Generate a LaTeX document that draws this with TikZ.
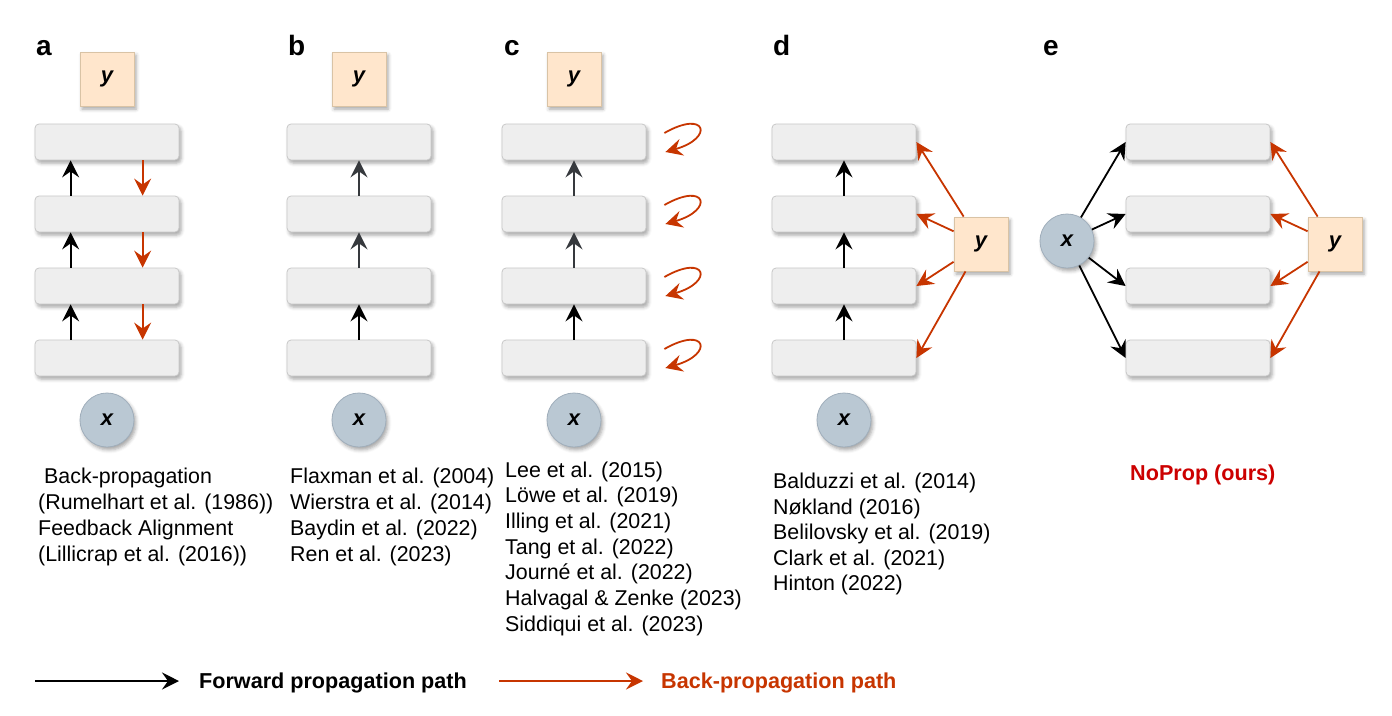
\documentclass[tikz,border=0pt]{standalone}
\usepackage{fontspec}
\setmainfont{Liberation Sans}
\usetikzlibrary{arrows.meta,shadows.blur,calc}
\definecolor{layerfill}{HTML}{EEEEEE}
\definecolor{layerdraw}{HTML}{C8C8C8}
\definecolor{yfill}{HTML}{FFE6CC}
\definecolor{ydraw}{HTML}{D9C3A5}
\definecolor{xfill}{HTML}{BAC8D3}
\definecolor{xdraw}{HTML}{A0AEBB}
\definecolor{bpred}{HTML}{C73500}
\definecolor{fwgray}{HTML}{36393D}
\definecolor{oursred}{HTML}{CC0000}
\begin{document}
\begin{tikzpicture}[x=1pt,y=-1pt,
  shad/.style={blur shadow={shadow xshift=2pt,shadow yshift=-3pt,shadow blur radius=3.5pt,shadow opacity=35}},
  layer/.style={rounded corners=4pt,fill=layerfill,draw=layerdraw,line width=0.8pt,
    minimum width=144pt,minimum height=36pt,inner sep=0pt,shad},
  ybox/.style={fill=yfill,draw=ydraw,line width=0.8pt,minimum size=54pt,inner sep=0pt,
    font=\fontsize{22}{26}\selectfont\bfseries\itshape,shad},
  xcirc/.style={circle,fill=xfill,draw=xdraw,line width=0.8pt,minimum size=54pt,inner sep=0pt,
    font=\fontsize{22}{26}\selectfont\bfseries\itshape,shad},
  tip/.style={-{Stealth[length=17pt,width=17pt,inset=6pt]}},
  fw/.style={line width=1.8pt,black,tip},
  fwg/.style={line width=1.8pt,fwgray,tip},
  bp/.style={line width=1.8pt,bpred,tip},
  cite/.style={font=\fontsize{21.4}{25}\selectfont,inner sep=0pt,anchor=base west},
  plabel/.style={font=\fontsize{28}{32}\selectfont\bfseries,inner sep=0pt,anchor=base west},
  legtext/.style={font=\fontsize{21.6}{25}\selectfont\bfseries,inner sep=0pt,anchor=base west}
]
\useasboundingbox (0,0) rectangle (1392,715);

% panel labels
\node[plabel] (la) at (36,55) {a};
\node[plabel] (lb) at (288,55) {b};
\node[plabel] (lc) at (504,55) {c};
\node[plabel] (ld) at (773,55) {d};
\node[plabel] (le) at (1043,55) {e};

% ---------- panel a ----------
\node[ybox] (ya) at (107,79) {y};
\foreach \i/\yy in {1/142,2/214,3/286,4/358} \node[layer] (a\i) at (107,\yy) {};
\node[xcirc] (xa) at (107,420) {x};
\foreach \lo/\hi in {2/1,3/2,4/3}{
  \draw[fw] ($(a\lo.north west)+(36,0)$) -- ($(a\hi.south west)+(36,0)$);
  \draw[bp] ($(a\hi.south west)+(108,0)$) -- ($(a\lo.north west)+(108,0)$);
}

% ---------- panel b ----------
\node[ybox] (yb) at (359,79) {y};
\foreach \i/\yy in {1/142,2/214,3/286,4/358} \node[layer] (b\i) at (359,\yy) {};
\node[xcirc] (xb) at (359,420) {x};
\draw[fwg] (b2.north) -- (b1.south);
\draw[fwg] (b3.north) -- (b2.south);
\draw[fw] (b4.north) -- (b3.south);

% ---------- panel c ----------
\node[ybox] (yc) at (574,79) {y};
\foreach \i/\yy in {1/142,2/214,3/286,4/358} \node[layer] (c\i) at (574,\yy) {};
\node[xcirc] (xc) at (574,420) {x};
\draw[fwg] (c2.north) -- (c1.south);
\draw[fwg] (c3.north) -- (c2.south);
\draw[fw] (c4.north) -- (c3.south);
\foreach \i in {1,2,3,4}{
  \coordinate (cs\i) at ($(c\i.east)+(18,-9)$);
  \coordinate (ce\i) at ($(c\i.east)+(19,10)$);
  \draw[bp] (cs\i) .. controls +(42,-24) and +(49,-14) .. (ce\i);
}

% ---------- panel d ----------
\foreach \i/\yy in {1/142,2/214,3/286,4/358} \node[layer] (d\i) at (844,\yy) {};
\node[ybox] (yd) at (981,244) {y};
\node[xcirc] (xd) at (844,420) {x};
\draw[fw] (d2.north) -- (d1.south);
\draw[fw] (d3.north) -- (d2.south);
\draw[fw] (d4.north) -- (d3.south);
\foreach \i in {1,2,3,4} \draw[bp] (yd) -- (d\i.east);

% ---------- panel e ----------
\foreach \i/\yy in {1/142,2/214,3/286,4/358} \node[layer] (e\i) at (1198,\yy) {};
\node[xcirc] (xe) at (1067,241) {x};
\node[ybox] (ye) at (1335,244) {y};
\foreach \i in {1,2,3,4}{
  \draw[fw] (xe) -- (e\i.west);
  \draw[bp] (ye) -- (e\i.east);
}

% ---------- texts ----------
\node[cite] (ta0) at (44,483) {Back-propagation};
\foreach \t [count=\k] in {{(Rumelhart et al. (1986))},{Feedback Alignment},{(Lillicrap et al. (2016))}}
  \node[cite] (ta\k) at (38,483+26*\k) {\t};

\foreach \t [count=\k from 0] in {{Flaxman et al. (2004)},{Wierstra et al. (2014)},{Baydin et al. (2022)},{Ren et al. (2023)}}
  \node[cite] (tb\k) at (290,483+26*\k) {\t};

\foreach \t [count=\k from 0] in {{Lee et al. (2015)},{Löwe et al. (2019)},{Illing et al. (2021)},{Tang et al. (2022)},{Journé et al. (2022)},{Halvagal \& Zenke (2023)},{Siddiqui et al. (2023)}}
  \node[cite] (tc\k) at (505,477+25.7*\k) {\t};

\foreach \t [count=\k from 0] in {{Balduzzi et al. (2014)},{Nøkland (2016)},{Belilovsky et al. (2019)},{Clark et al. (2021)},{Hinton (2022)}}
  \node[cite] (td\k) at (773,488.5+25.5*\k) {\t};

\node[legtext,text=oursred] (te) at (1130,480) {NoProp (ours)};

% ---------- legend ----------
\coordinate (f0) at (35,681);
\coordinate (f1) at (179,681);
\draw[fw] (f0) -- (f1);
\node[legtext] (ft) at (199,688) {Forward propagation path};
\coordinate (r0) at (499,681);
\coordinate (r1) at (643,681);
\draw[bp] (r0) -- (r1);
\node[legtext,text=bpred] (rt) at (661,688) {Back-propagation path};
\end{tikzpicture}
\end{document}
